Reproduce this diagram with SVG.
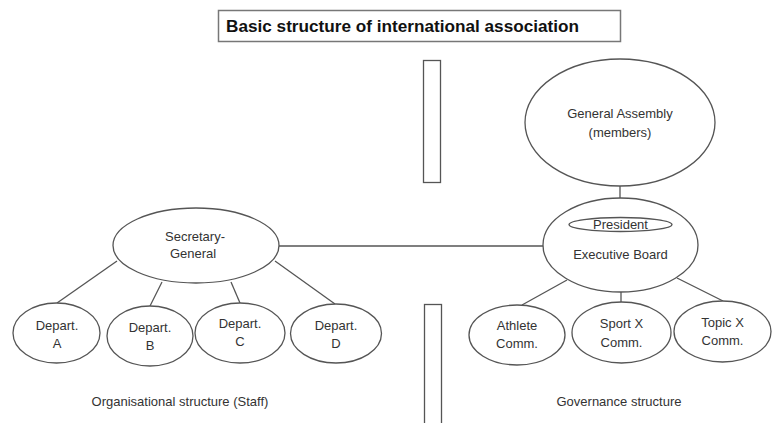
<svg xmlns="http://www.w3.org/2000/svg" width="772" height="423" viewBox="0 0 772 423">
<style>
.n{fill:#fff;stroke:#555;stroke-width:1.3}
.c line{stroke:#555;stroke-width:1.3}
text{font-family:"Liberation Sans",Arial,sans-serif;font-size:13px;fill:#333;text-anchor:middle}
.t{font-size:17px;font-weight:bold;fill:#111;text-anchor:start}
</style>
<rect width="772" height="423" fill="#fff"/>
<g id="title">
<rect x="218.5" y="10.5" width="402" height="31" fill="#fff" stroke="#777" stroke-width="1.5"/>
<text class="t" x="226" y="32" textLength="353" lengthAdjust="spacingAndGlyphs">Basic structure of international association</text>
</g>
<g id="divider-top"><rect class="n" x="423.5" y="60.5" width="17" height="122"/></g>
<g id="divider-bottom"><rect class="n" x="424.5" y="304.5" width="17" height="130"/></g>
<g class="c" id="connectors">
<line x1="620" y1="186" x2="620" y2="198"/>
<line x1="279" y1="246" x2="543" y2="246"/>
<line x1="117" y1="261" x2="57" y2="303"/>
<line x1="162" y1="282" x2="150" y2="306"/>
<line x1="231" y1="282" x2="240" y2="303"/>
<line x1="275" y1="261" x2="335" y2="304"/>
<line x1="567" y1="280" x2="522" y2="305"/>
<line x1="621" y1="292" x2="621" y2="302"/>
<line x1="677" y1="278" x2="723" y2="301"/>
</g>
<g id="general-assembly">
<ellipse class="n" cx="620" cy="122.5" rx="95" ry="63.5"/>
<text x="620" y="118">General Assembly</text>
<text x="620" y="137">(members)</text>
</g>
<g id="executive-board">
<ellipse class="n" cx="620.5" cy="245" rx="77.5" ry="47"/>
<ellipse class="n" cx="620.5" cy="224.5" rx="51.5" ry="7"/>
<text x="620.5" y="229">President</text>
<text x="620.5" y="259">Executive Board</text>
</g>
<g id="secretary-general">
<ellipse class="n" cx="196" cy="245.5" rx="83" ry="37.5"/>
<text x="195" y="241">Secretary-</text>
<text x="193" y="258">General</text>
</g>
<g id="dept-a">
<ellipse class="n" cx="56.5" cy="333" rx="43.5" ry="30"/>
<text x="57" y="330">Depart.</text><text x="57" y="348">A</text>
</g>
<g id="dept-b">
<ellipse class="n" cx="150" cy="336" rx="43" ry="30"/>
<text x="150" y="332">Depart.</text><text x="150" y="350">B</text>
</g>
<g id="dept-c">
<ellipse class="n" cx="240" cy="333" rx="45" ry="30"/>
<text x="240" y="328">Depart.</text><text x="240" y="346">C</text>
</g>
<g id="dept-d">
<ellipse class="n" cx="336" cy="333.5" rx="45.5" ry="29.5"/>
<text x="336" y="330">Depart.</text><text x="336" y="348">D</text>
</g>
<g id="athlete-comm">
<ellipse class="n" cx="517" cy="335" rx="48" ry="30"/>
<text x="517" y="330">Athlete</text><text x="517" y="348">Comm.</text>
</g>
<g id="sport-comm">
<ellipse class="n" cx="621.5" cy="332.5" rx="49.5" ry="30.5"/>
<text x="621.5" y="328">Sport X</text><text x="621.5" y="347">Comm.</text>
</g>
<g id="topic-comm">
<ellipse class="n" cx="722.5" cy="331.5" rx="48.5" ry="30.5"/>
<text x="722.5" y="327">Topic X</text><text x="722.5" y="345">Comm.</text>
</g>
<g id="labels">
<text x="180" y="406">Organisational structure (Staff)</text>
<text x="619" y="406">Governance structure</text>
</g>
</svg>
